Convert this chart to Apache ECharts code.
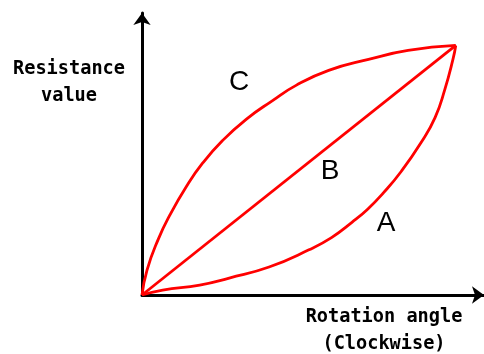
<!DOCTYPE html>
<html>
<head>
<meta charset="utf-8">
<script src="https://cdn.jsdelivr.net/npm/echarts@6/dist/echarts.min.js"></script>
<style>
  html, body { margin: 0; padding: 0; background: #fff; }
  #main { width: 484px; height: 354px; }
</style>
</head>
<body>
<div id="main"></div>
<script>
// 曲线数据 (x: 旋转角度 %, y: 阻值 %)
var curveA = [[0,0],[6.6,2],[18.4,4],[27.8,6.8],[40.5,11.2],[53.2,18.1],[60.4,23],[67,29.2],[72,34.5],[77,41],[82.6,49.5],[88.9,61],[93.4,71.1],[96.5,82.3],[99.1,94.4],[100,100]];
var curveB = [[0,0],[100,100]];
var curveC = [[0,0],[1.6,10],[5.1,22.1],[8.9,32.1],[14.2,43.6],[19.3,52.8],[25.6,61.8],[33.2,70.4],[41.5,77.8],[49.1,84],[59.5,90],[72.2,94.4],[84.8,98],[100,100]];
var curveNames = ['A', 'B', 'C'];
var yTitle = ['Resistance', 'value'];
var xTitle = ['Rotation angle', '(Clockwise)'];

var chart = echarts.init(document.getElementById('main'));

function curve(name, data) {
  return {
    name: name,
    type: 'line',
    data: data,
    smooth: 0.5,
    showSymbol: false,
    silent: true,
    lineStyle: { color: '#ff0000', width: 2.8 }
  };
}

function monoText(text, x, y) {
  return {
    type: 'text', x: x, y: y,
    style: { text: text, textAlign: 'center', textVerticalAlign: 'middle', fontFamily: 'DejaVu Sans Mono', fontWeight: 'bold', fontSize: 18.6, fill: '#000' }
  };
}

function curveLabel(text, x, y) {
  return {
    type: 'text', x: x, y: y,
    style: { text: text, textAlign: 'center', textVerticalAlign: 'middle', fontFamily: 'Liberation Sans', fontSize: 28, fill: '#000' }
  };
}

var option = {
  animation: false,
  grid: { left: 142, top: 13, width: 344, height: 282 },
  xAxis: {
    type: 'value', min: 0, max: 109,
    axisLine: { show: true, symbol: ['none', 'arrow'], symbolSize: [13, 12], lineStyle: { color: '#000', width: 3 } },
    axisTick: { show: false }, axisLabel: { show: false }, splitLine: { show: false }
  },
  yAxis: {
    type: 'value', min: 0, max: 113,
    axisLine: { show: true, symbol: ['none', 'arrow'], symbolSize: [13, 12], lineStyle: { color: '#000', width: 3 } },
    axisTick: { show: false }, axisLabel: { show: false }, splitLine: { show: false }
  },
  graphic: [
    monoText(yTitle[0], 69, 69),
    monoText(yTitle[1], 69, 96),
    monoText(xTitle[0], 384, 317),
    monoText(xTitle[1], 384, 344),
    curveLabel(curveNames[0], 386, 223),
    curveLabel(curveNames[1], 330, 171),
    curveLabel(curveNames[2], 239, 82)
  ],
  series: [
    curve(curveNames[0], curveA),
    curve(curveNames[1], curveB),
    curve(curveNames[2], curveC)
  ]
};
chart.setOption(option);
</script>
</body>
</html>
